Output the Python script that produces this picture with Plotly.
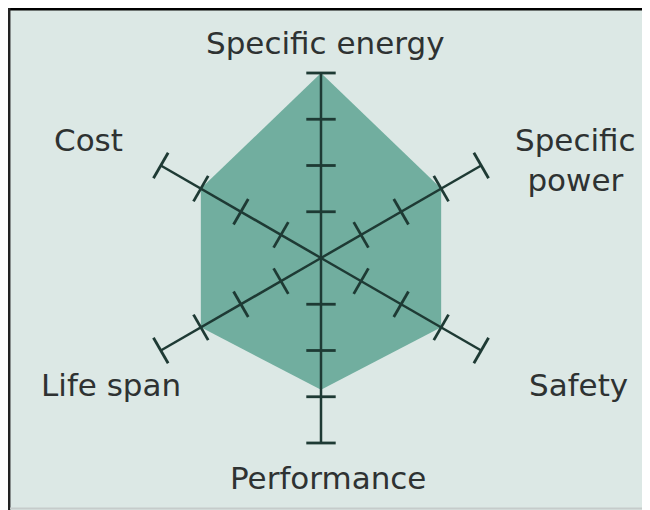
import numpy as np
import plotly.graph_objects as go

# ---- data ----
axes_labels = ["Specific energy", "Specific power", "Safety", "Performance", "Life span", "Cost"]
axis_angles = [0, 60, 120, 180, 240, 300]          # clockwise from top
battery_scores = [4.0, 3.0, 3.0, 2.85, 3.0, 3.0]
scale_levels = [1, 2, 3, 4]
max_level = 4

# page has an 8px body margin, so the figure is sized to fill the rest
OFF = 8
W, H = 650 - OFF, 510 - OFF
BG = "#dce8e5"
FILL = "#71ae9f"
INK = "#1e3a34"
TEXT = "#2e3232"

fig = go.Figure()

# filled profile
fig.add_trace(go.Scatterpolar(
    r=battery_scores + battery_scores[:1],
    theta=axis_angles + axis_angles[:1],
    fill="toself", fillcolor=FILL,
    mode="lines", line=dict(width=0, color=FILL),
    hoverinfo="skip", showlegend=False,
))

# spokes
sr, st = [], []
for a in axis_angles:
    sr += [0, max_level, None]
    st += [a, a, None]
fig.add_trace(go.Scatterpolar(
    r=sr, theta=st, mode="lines", connectgaps=False,
    line=dict(color=INK, width=2.5), hoverinfo="skip", showlegend=False,
))

# tick marks on each spoke (perpendicular)
tr, tt, tang = [], [], []
for a in axis_angles:
    for lv in scale_levels:
        tr.append(lv)
        tt.append(a)
        tang.append(a)
fig.add_trace(go.Scatterpolar(
    r=tr, theta=tt, mode="markers", cliponaxis=False,
    marker=dict(symbol="line-ew", size=21, angle=tang,
                line=dict(color=INK, width=2.8)),
    hoverinfo="skip", showlegend=False,
))

# reference-pixel helpers
def px(x):
    return (x - OFF) / W

def py(y):
    return 1 - (y - OFF) / H

cx, cy, R = 321, 258, 185
fig.update_layout(
    width=W, height=H,
    margin=dict(l=0, r=0, t=0, b=0),
    paper_bgcolor=BG, plot_bgcolor=BG,
    showlegend=False,
    polar=dict(
        domain=dict(x=[px(cx - R), px(cx + R)],
                    y=[py(cy + R), py(cy - R)]),
        bgcolor="rgba(0,0,0,0)",
        radialaxis=dict(visible=False, range=[0, max_level]),
        angularaxis=dict(visible=False, rotation=90, direction="clockwise",
                         thetaunit="degrees"),
    ),
)

# axis labels
label_pos = {
    "Specific energy": (325, 43),
    "Specific power": (575, 160),
    "Safety": (578, 385),
    "Performance": (328, 478),
    "Life span": (111, 385),
    "Cost": (88, 140),
}
for name in axes_labels:
    x, y = label_pos[name]
    txt = "Specific<br>power" if name == "Specific power" else name
    fig.add_annotation(
        x=px(x), y=py(y), xref="paper", yref="paper",
        text=txt, showarrow=False, xanchor="center", yanchor="middle",
        font=dict(family="DejaVu Sans", size=31, color=TEXT),
        align="center",
    )

# frame
fig.add_shape(type="line", xref="paper", yref="paper", x0=0, x1=1,
              y0=1 - 1.2 / H, y1=1 - 1.2 / H, line=dict(color="black", width=2.5))
fig.add_shape(type="line", xref="paper", yref="paper", x0=1.2 / W, x1=1.2 / W,
              y0=0, y1=1, line=dict(color="#222222", width=2.5))
fig.add_shape(type="line", xref="paper", yref="paper", x0=2 / W, x1=1,
              y0=1.5 / H, y1=1.5 / H, line=dict(color="#c6cccb", width=2))

fig.write_html("out.html")
